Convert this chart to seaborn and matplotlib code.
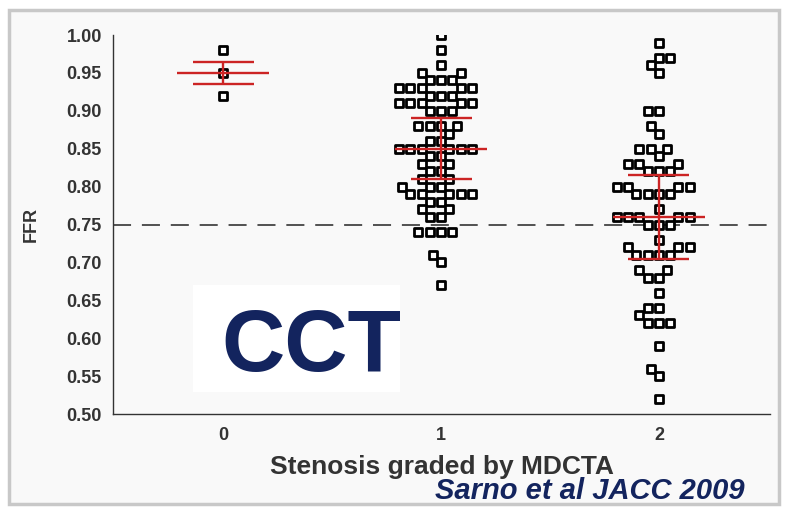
import numpy as np
import pandas as pd
import matplotlib
matplotlib.use("Agg")
import matplotlib.pyplot as plt
import seaborn as sns
from matplotlib.patches import Rectangle

# ---- data ----
grades = ["0", "1", "2"]

g0_values = [0.98, 0.95, 0.92]
g0_counts = [1, 1, 1]

g1_values = [1.00, 0.98, 0.96, 0.95, 0.94, 0.93, 0.92, 0.91, 0.90, 0.88, 0.87,
             0.86, 0.85, 0.84, 0.83, 0.82, 0.81, 0.80, 0.79, 0.78, 0.77, 0.76,
             0.74, 0.71, 0.70, 0.67]
g1_counts = [1, 1, 1, 2, 3, 5, 3, 5, 3, 4, 1,
             2, 6, 2, 2, 2, 2, 3, 5, 2, 2, 2,
             4, 1, 1, 1]

g2_values = [0.99, 0.97, 0.96, 0.95, 0.90, 0.88, 0.87, 0.85, 0.84, 0.83, 0.82,
             0.80, 0.79, 0.77, 0.76, 0.75, 0.73, 0.72, 0.71, 0.69, 0.68, 0.66,
             0.64, 0.63, 0.62, 0.59, 0.56, 0.55, 0.52]
g2_counts = [1, 2, 1, 1, 2, 1, 1, 3, 1, 3, 3,
             4, 4, 1, 5, 3, 1, 3, 4, 2, 2, 1,
             2, 1, 3, 1, 1, 1, 1]

means = [0.95, 0.85, 0.76]
sds = [0.015, 0.04, 0.055]
cutoff = 0.75
yticks = [0.50, 0.55, 0.60, 0.65, 0.70, 0.75, 0.80, 0.85, 0.90, 0.95, 1.00]

rows = []
for g, vals, cnts in zip(grades, [g0_values, g1_values, g2_values],
                         [g0_counts, g1_counts, g2_counts]):
    for v, c in zip(vals, cnts):
        rows += [(g, v)] * c
df = pd.DataFrame(rows, columns=["grade", "ffr"])

# ---- figure ----
sns.set_style("white")
plt.rcParams["font.family"] = ["Liberation Sans", "DejaVu Sans"]

fig = plt.figure(figsize=(7.89, 5.12), dpi=100, facecolor="white")
# panel frame (behind the axes)
fig.patches.append(Rectangle((0.012, 0.015), 0.975, 0.965, transform=fig.transFigure,
                             facecolor="#f9f9f9", edgecolor="#c8c8c8", linewidth=2.5,
                             zorder=-5))
ax = fig.add_axes([0.1432, 0.1914, 0.8328, 0.7402])
ax.set_zorder(1)
ax.set_facecolor("#f9f9f9")

sns.swarmplot(data=df, x="grade", y="ffr", order=grades, marker="s", size=5.8,
              color="white", edgecolor="black", linewidth=2.0, ax=ax, zorder=3)

ax.axhline(cutoff, color="#444444", lw=1.3, ls=(0, (10, 6)), zorder=2)

red = "#cc2424"
for i, (m, s) in enumerate(zip(means, sds)):
    ax.hlines(m, i - 0.21, i + 0.21, color=red, lw=1.7, zorder=5)
    ax.hlines([m - s, m + s], i - 0.14, i + 0.14, color=red, lw=1.7, zorder=5)
    ax.vlines(i, m - s, m + s, color=red, lw=1.7, zorder=5)

ax.set_xlim(-0.506, 2.51)
ax.set_ylim(0.50, 1.00)
ax.set_yticks(yticks)
ax.set_yticklabels([f"{t:.2f}" for t in yticks])
for sp in ["top", "right"]:
    ax.spines[sp].set_visible(False)
for sp in ["left", "bottom"]:
    ax.spines[sp].set_color("#333333")
    ax.spines[sp].set_linewidth(1.0)
ax.tick_params(axis="both", direction="out", length=6, width=1, color="#333333",
               labelsize=13, labelcolor="#333333")
ax.tick_params(axis="y", pad=2)
for lab in ax.get_yticklabels() + ax.get_xticklabels():
    lab.set_fontweight("bold")

ax.set_ylabel("FFR", fontsize=13, fontweight="bold", color="#333333", labelpad=19)
ax.set_xlabel("Stenosis graded by MDCTA", fontsize=19, fontweight="bold",
              color="#333333", labelpad=8)

# CCT box (above the axes)
fig.patches.append(Rectangle((193 / 789, 1 - 392 / 512), 207 / 789, 107 / 512,
                             transform=fig.transFigure, facecolor="white",
                             edgecolor="none", zorder=4))
fig.text(311 / 789, 1 - 349 / 512, "CCT", fontsize=63, fontweight="bold",
         color="#13245e", ha="center", va="center", zorder=6)

fig.text(745 / 789, 1 - 491 / 512, "Sarno et al JACC 2009", fontsize=21,
         fontweight="bold", fontstyle="italic", color="#13245e",
         ha="right", va="center", zorder=6)

fig.savefig("out.png", dpi=100, facecolor=fig.get_facecolor())
